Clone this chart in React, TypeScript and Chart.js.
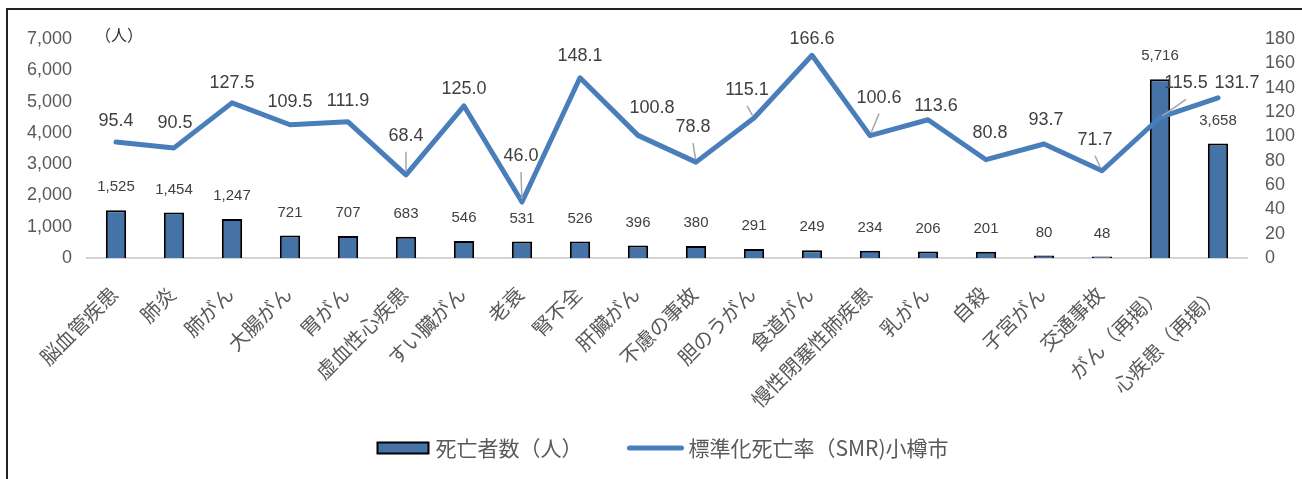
import React, { useEffect, useRef } from 'react';
import { Chart, registerables } from 'chart.js';

Chart.register(...registerables);

const categories = [
  '脳血管疾患', '肺炎', '肺がん', '大腸がん', '胃がん', '虚血性心疾患', 'すい臓がん', '老衰', '腎不全', '肝臓がん',
  '不慮の事故', '胆のうがん', '食道がん', '慢性閉塞性肺疾患', '乳がん', '自殺', '子宮がん', '交通事故', 'がん（再掲）', '心疾患（再掲）',
];
const deaths = [1525, 1454, 1247, 721, 707, 683, 546, 531, 526, 396, 380, 291, 249, 234, 206, 201, 80, 48, 5716, 3658];
const smr = [95.4, 90.5, 127.5, 109.5, 111.9, 68.4, 125.0, 46.0, 148.1, 100.8, 78.8, 115.1, 166.6, 100.6, 113.6, 80.8, 93.7, 71.7, 115.5, 131.7];
const deathsLabel = '死亡者数（人）';
const smrLabel = '標準化死亡率（SMR)小樽市';
const leftUnit = '（人）';
const leftAxis = { min: 0, max: 7000, step: 1000 };
const rightAxis = { min: 0, max: 180, step: 20 };

// label placement for the SMR data labels: [dx, dy, leader line]
const smrLabelPlacement: [number, number, boolean][] = [
  [0, -21, false], [1, -25, false], [0, -20, false], [0, -23, false], [0, -21, false],
  [0, -39, true], [0, -17, false], [-1, -46, true], [0, -22, false], [14, -27, false],
  [-3, -35, true], [-7, -28, true], [0, -16, false], [9, -38, true], [8, -14, false],
  [4, -27, false], [2, -24, false], [-7, -31, true], [26, -34, true], [19, -15, false],
];

const BAR_COLOR = '#4572A7';
const LINE_COLOR = '#4A7EBB';
const TEXT = '#404040';
const AXIS_TEXT = '#595959';
const NUM_FONT = '"Liberation Sans", Arial, "Noto Sans CJK JP", sans-serif';
const JP_FONT = '"Noto Sans CJK JP", "Liberation Sans", sans-serif';

const fmt = (v: number) => v.toLocaleString('en-US');

const labelPlugin = {
  id: 'valueLabels',
  afterDatasetsDraw(chart: any) {
    const ctx = chart.ctx as CanvasRenderingContext2D;
    ctx.save();
    ctx.textAlign = 'center';
    ctx.textBaseline = 'middle';
    const barMeta = chart.getDatasetMeta(1);
    ctx.font = `15px ${NUM_FONT}`;
    ctx.fillStyle = TEXT;
    barMeta.data.forEach((el: any, i: number) => {
      ctx.fillText(fmt(deaths[i]), el.x, el.y - 23);
    });
    const lineMeta = chart.getDatasetMeta(0);
    lineMeta.data.forEach((pt: any, i: number) => {
      const [dx, dy, leader] = smrLabelPlacement[i];
      const lx = pt.x + dx;
      const ly = pt.y + dy;
      if (leader) {
        const sx = lx, sy = ly + 16;
        const vx = pt.x - sx, vy = pt.y - sy;
        const len = Math.hypot(vx, vy) || 1;
        const ex = pt.x - (vx / len) * 3;
        const ey = pt.y - (vy / len) * 3;
        ctx.strokeStyle = '#A6A6A6';
        ctx.lineWidth = 1.5;
        ctx.beginPath();
        ctx.moveTo(sx, sy);
        ctx.lineTo(ex, ey);
        ctx.stroke();
      }
      ctx.font = `18px ${NUM_FONT}`;
      ctx.fillStyle = TEXT;
      ctx.fillText(smr[i].toFixed(1), lx, ly);
    });
    ctx.restore();
  },
  afterDraw(chart: any) {
    const ctx = chart.ctx as CanvasRenderingContext2D;
    const area = chart.chartArea;
    ctx.save();
    ctx.font = `16px ${JP_FONT}`;
    ctx.fillStyle = '#333333';
    ctx.textAlign = 'left';
    ctx.textBaseline = 'middle';
    ctx.fillText(leftUnit, area.left + 8, area.top - 4);

    ctx.font = `21px ${JP_FONT}`;
    const barText = chart.data.datasets[1].label;
    const lineText = chart.data.datasets[0].label;
    const w1 = ctx.measureText(barText).width;
    const w2 = ctx.measureText(lineText).width;
    const boxW = 51, boxH = 11, gap1 = 7, gapMid = 45, lineW = 56, gap2 = 5;
    const total = boxW + gap1 + w1 + gapMid + lineW + gap2 + w2;
    let x = (area.left + area.right) / 2 - total / 2 - 4;
    const y = 438;
    ctx.fillStyle = BAR_COLOR;
    ctx.fillRect(x, y - boxH / 2, boxW, boxH);
    ctx.strokeStyle = '#000000';
    ctx.lineWidth = 2;
    ctx.strokeRect(x, y - boxH / 2, boxW, boxH);
    x += boxW + gap1;
    ctx.fillStyle = AXIS_TEXT;
    ctx.fillText(barText, x, y);
    x += w1 + gapMid;
    ctx.strokeStyle = LINE_COLOR;
    ctx.lineWidth = 5;
    ctx.lineCap = 'round';
    ctx.beginPath();
    ctx.moveTo(x + 2, y);
    ctx.lineTo(x + lineW - 2, y);
    ctx.stroke();
    x += lineW + gap2;
    ctx.fillStyle = AXIS_TEXT;
    ctx.fillText(lineText, x, y);
    ctx.restore();
  },
};

export default function App() {
  const ref = useRef<HTMLCanvasElement | null>(null);

  useEffect(() => {
    if (!ref.current) return;
    const chart = new Chart(ref.current, {
      type: 'bar',
      data: {
        labels: categories,
        datasets: [
          {
            type: 'line',
            label: smrLabel,
            data: smr,
            yAxisID: 'y1',
            borderColor: LINE_COLOR,
            backgroundColor: LINE_COLOR,
            borderWidth: 5,
            pointRadius: 0,
            tension: 0,
            borderJoinStyle: 'round',
            borderCapStyle: 'round',
            order: 0,
          } as any,
          {
            type: 'bar',
            label: deathsLabel,
            data: deaths,
            yAxisID: 'y',
            backgroundColor: BAR_COLOR,
            borderColor: '#000000',
            borderWidth: 2,
            barPercentage: 0.35,
            categoryPercentage: 1,
            order: 1,
          },
        ],
      },
      options: {
        responsive: false,
        animation: false,
        layout: { padding: { top: 29, left: 0, right: 0, bottom: 0 } },
        plugins: {
          legend: { display: false },
          tooltip: { enabled: false },
        },
        scales: {
          x: {
            grid: { display: false, drawTicks: false },
            border: { display: true, color: '#D4D4D4', width: 2 },
            ticks: {
              autoSkip: false,
              maxRotation: 45,
              minRotation: 45,
              padding: 24,
              labelOffset: -2,
              color: AXIS_TEXT,
              font: { family: JP_FONT, size: 20 },
            },
            afterFit: (s: any) => { s.height = 221; },
          },
          y: {
            position: 'left',
            min: leftAxis.min,
            max: leftAxis.max,
            grid: { display: false, drawTicks: false },
            border: { display: false },
            ticks: {
              stepSize: leftAxis.step,
              autoSkip: false,
              padding: 15,
              color: AXIS_TEXT,
              font: { family: NUM_FONT, size: 18 },
              callback: (v: any) => fmt(Number(v)),
            },
            afterFit: (s: any) => { s.width = 79; },
          },
          y1: {
            position: 'right',
            min: rightAxis.min,
            max: rightAxis.max,
            grid: { display: false, drawTicks: false },
            border: { display: false },
            ticks: {
              stepSize: rightAxis.step,
              autoSkip: false,
              padding: 18,
              color: AXIS_TEXT,
              font: { family: NUM_FONT, size: 18 },
            },
            afterFit: (s: any) => { s.width = 55; },
          },
        },
      },
      plugins: [labelPlugin],
    });
    return () => chart.destroy();
  }, []);

  return (
    <div
      style={{
        position: 'absolute',
        left: 6,
        top: 8,
        width: 1296,
        height: 471,
        boxSizing: 'border-box',
        borderTop: '2px solid #222222',
        borderLeft: '2px solid #222222',
        overflow: 'hidden',
        background: '#ffffff',
      }}
    >
      <canvas ref={ref} width={1294} height={469} style={{ display: 'block' }} />
    </div>
  );
}
